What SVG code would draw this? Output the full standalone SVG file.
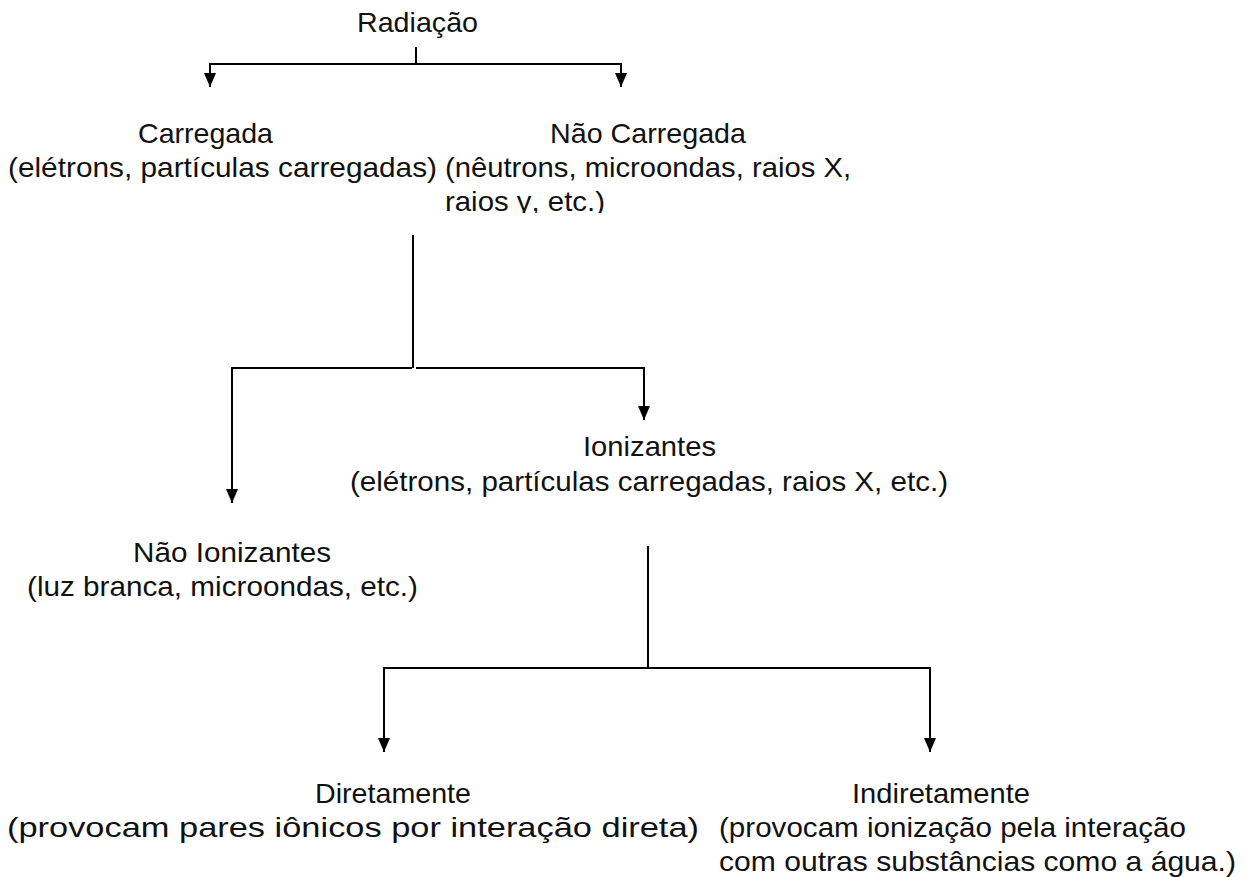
<svg xmlns="http://www.w3.org/2000/svg" width="1251" height="877" viewBox="0 0 1251 877">
<style>
text{font-family:"Liberation Sans",Arial,sans-serif;font-size:28px;fill:#111}
.c{fill:none;stroke:#000;stroke-width:2}
</style>
<defs>
<marker id="ah" viewBox="0 0 14 12" refX="14" refY="6" markerWidth="14" markerHeight="12" markerUnits="userSpaceOnUse" orient="auto">
<path d="M0,0 L14,6 L0,12 Z" fill="#000"/>
</marker>
<clipPath id="clipTop"><rect x="0" y="0" width="1251" height="213"/></clipPath>
</defs>
<rect width="1251" height="877" fill="#fff"/>
<g id="connectors">
<path class="c" d="M416,47 V64"/>
<path class="c" d="M209,64 H622"/>
<path class="c" d="M210,64 V87" marker-end="url(#ah)"/>
<path class="c" d="M621,64 V87" marker-end="url(#ah)"/>
<path class="c" d="M413,235 V368 M231,368 H412 M416,368 H645"/>
<path class="c" d="M232,367 V503" marker-end="url(#ah)"/>
<path class="c" d="M644,367 V420" marker-end="url(#ah)"/>
<path class="c" d="M648,546 V668 M383,668 H931"/>
<path class="c" d="M384,667 V752" marker-end="url(#ah)"/>
<path class="c" d="M930,667 V752" marker-end="url(#ah)"/>
</g>
<g id="radiacao"><text x="357" y="32" textLength="121" lengthAdjust="spacingAndGlyphs">Radiação</text></g>
<g id="carregada">
<text x="138" y="143" textLength="135" lengthAdjust="spacingAndGlyphs">Carregada</text>
<text x="8" y="177" textLength="429" lengthAdjust="spacingAndGlyphs">(elétrons, partículas carregadas)</text>
</g>
<g id="nao-carregada">
<text x="550" y="143" textLength="196" lengthAdjust="spacingAndGlyphs">Não Carregada</text>
<text x="445" y="177" textLength="406" lengthAdjust="spacingAndGlyphs">(nêutrons, microondas, raios X,</text>
<text x="445" y="211" textLength="160" lengthAdjust="spacingAndGlyphs" clip-path="url(#clipTop)">raios γ, etc.)</text>
</g>
<g id="ionizantes">
<text x="583" y="456" textLength="133" lengthAdjust="spacingAndGlyphs">Ionizantes</text>
<text x="350" y="491" textLength="598" lengthAdjust="spacingAndGlyphs">(elétrons, partículas carregadas, raios X, etc.)</text>
</g>
<g id="nao-ionizantes">
<text x="133" y="562" textLength="198" lengthAdjust="spacingAndGlyphs">Não Ionizantes</text>
<text x="27" y="596" textLength="391" lengthAdjust="spacingAndGlyphs">(luz branca, microondas, etc.)</text>
</g>
<g id="diretamente">
<text x="315" y="803" textLength="156" lengthAdjust="spacingAndGlyphs">Diretamente</text>
<text x="7" y="837" textLength="692" lengthAdjust="spacingAndGlyphs">(provocam pares iônicos por interação direta)</text>
</g>
<g id="indiretamente">
<text x="852" y="803" textLength="178" lengthAdjust="spacingAndGlyphs">Indiretamente</text>
<text x="719" y="837" textLength="467" lengthAdjust="spacingAndGlyphs">(provocam ionização pela interação</text>
<text x="719" y="871" textLength="517" lengthAdjust="spacingAndGlyphs">com outras substâncias como a água.)</text>
</g>
</svg>
